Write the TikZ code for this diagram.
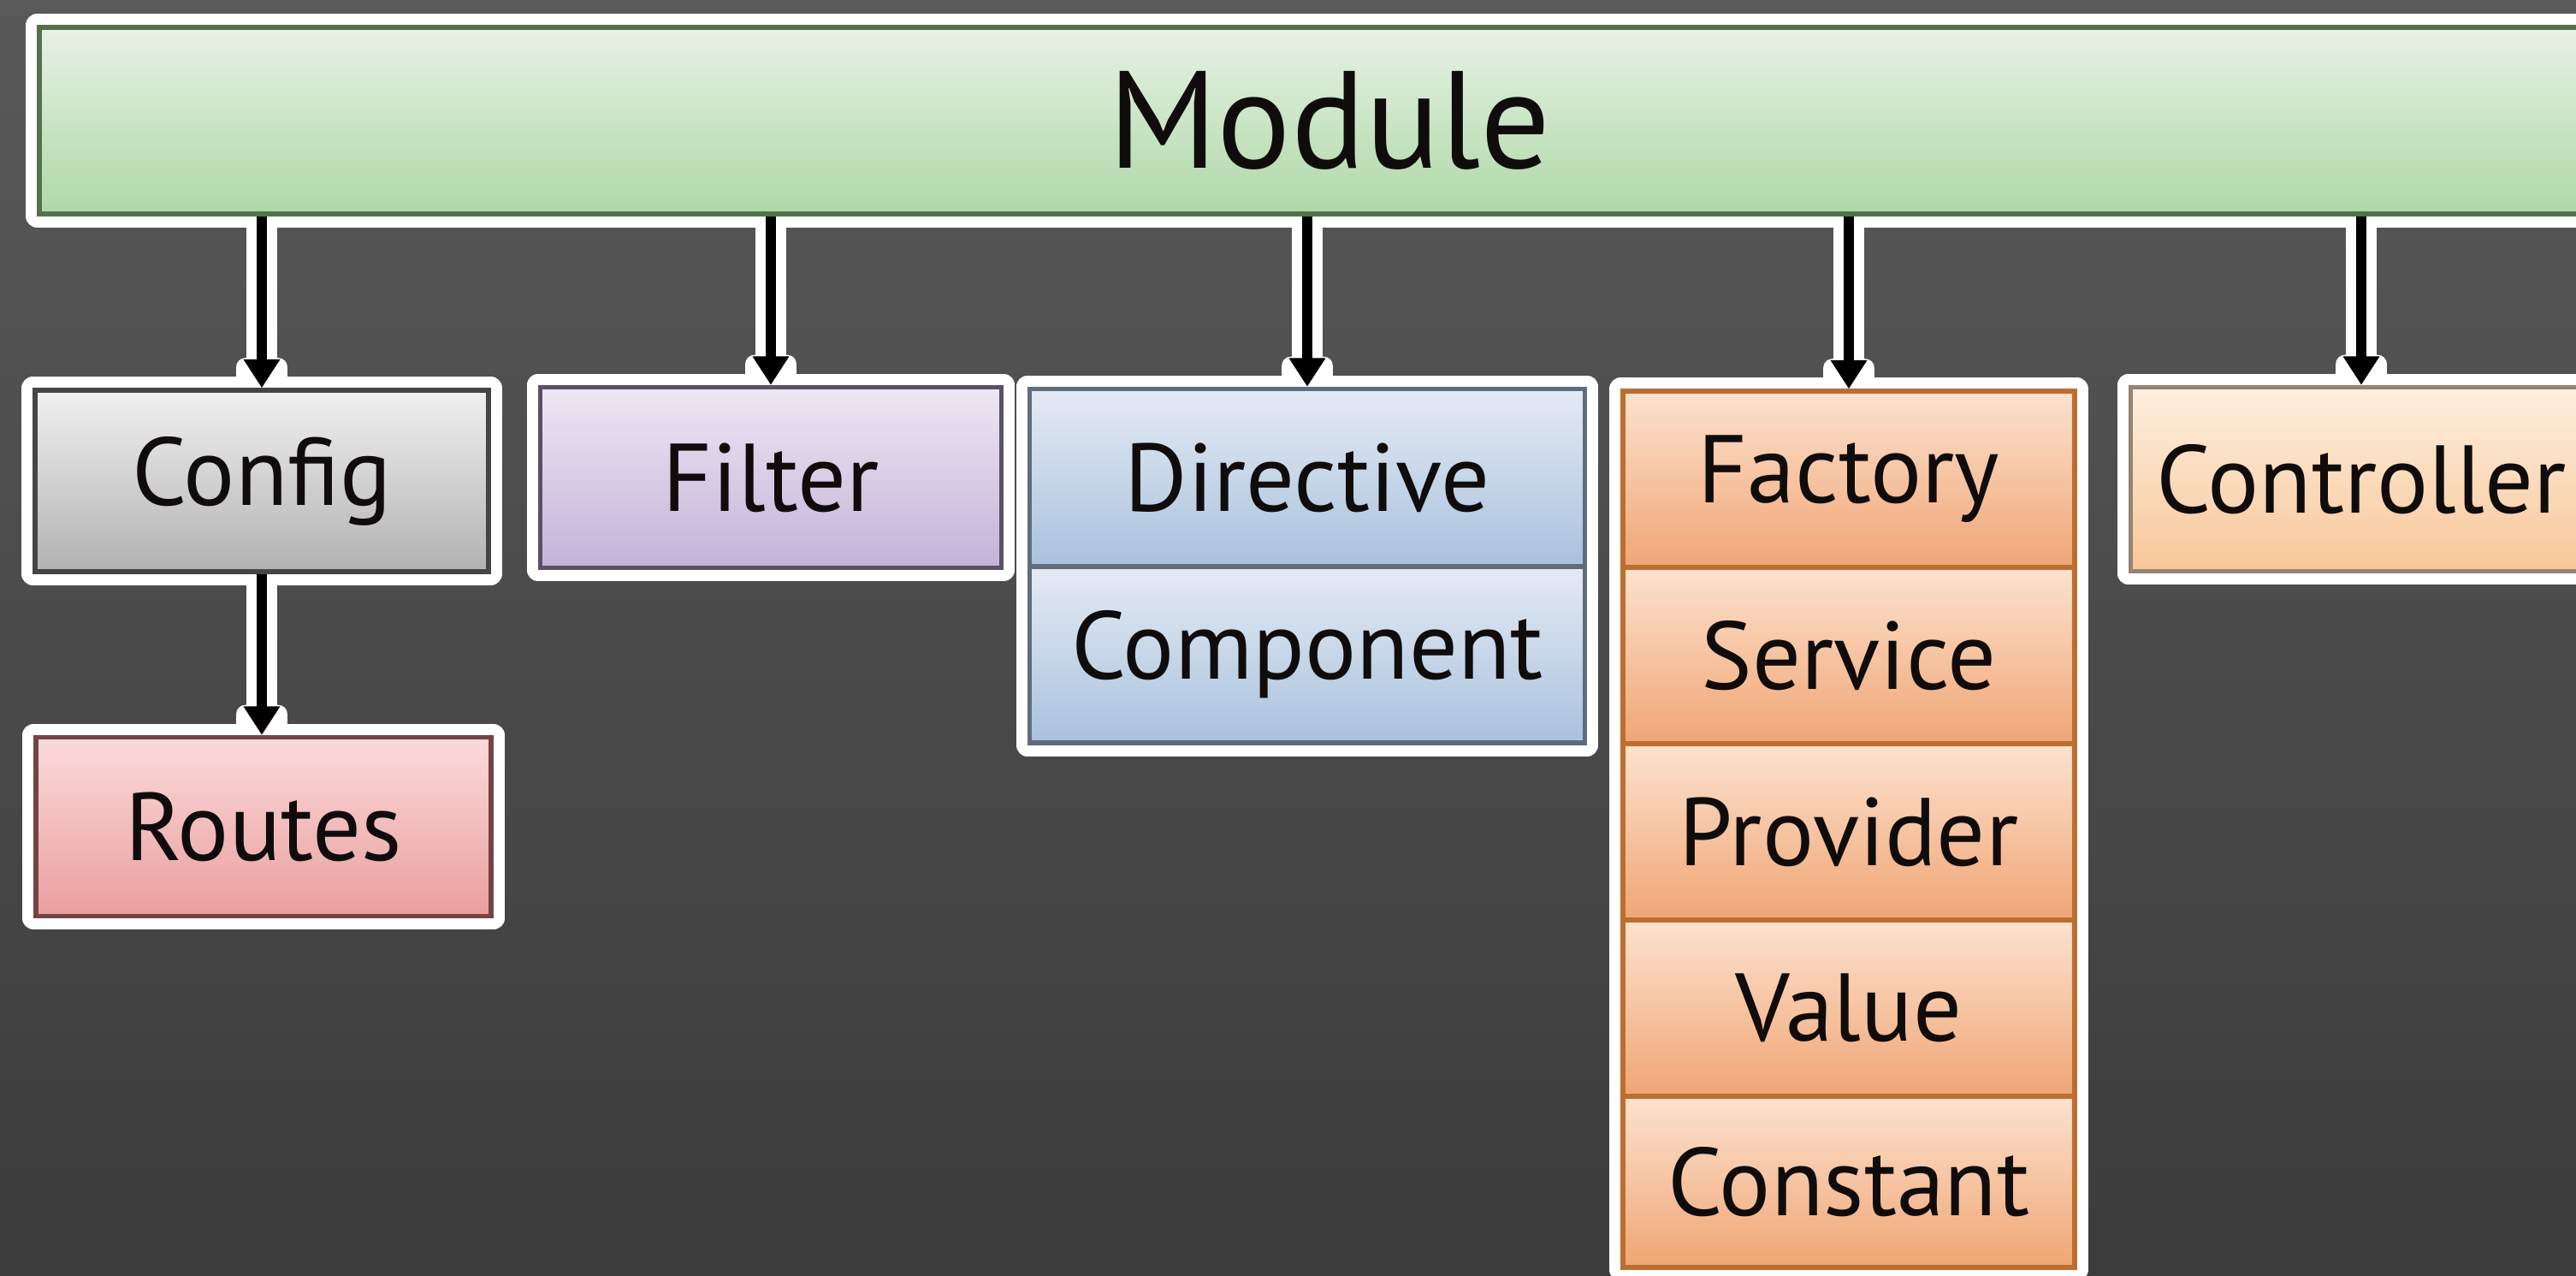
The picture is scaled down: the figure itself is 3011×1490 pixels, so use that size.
\documentclass[tikz,border=0pt]{standalone}
\usepackage{fontspec}
\setmainfont{PT Sans}
\usetikzlibrary{arrows.meta,fit}
\pgfdeclarelayer{bg}
\pgfdeclarelayer{glow}
\pgfsetlayers{bg,glow,main}

\definecolor{bgtop}{HTML}{595959}
\definecolor{bgbot}{HTML}{3C3C3C}
\definecolor{ink}{HTML}{100C0C}
\definecolor{modA}{HTML}{E7F2E5}\definecolor{modB}{HTML}{AED8A7}\definecolor{modC}{HTML}{56704F}
\definecolor{cfgA}{HTML}{F0F0F0}\definecolor{cfgB}{HTML}{B2B2B2}\definecolor{cfgC}{HTML}{454545}
\definecolor{filA}{HTML}{EDE7F3}\definecolor{filB}{HTML}{C3B3D8}\definecolor{filC}{HTML}{5A5068}
\definecolor{dirA}{HTML}{E4EBF4}\definecolor{dirB}{HTML}{A9C1DD}\definecolor{dirC}{HTML}{5F6D7C}
\definecolor{facA}{HTML}{FCE2CF}\definecolor{facB}{HTML}{F0A574}\definecolor{facC}{HTML}{BC6E30}
\definecolor{ctlA}{HTML}{FDEFDF}\definecolor{ctlB}{HTML}{F8C798}\definecolor{ctlC}{HTML}{958474}
\definecolor{rteA}{HTML}{FBDADA}\definecolor{rteB}{HTML}{EA9E9E}\definecolor{rteC}{HTML}{744444}

\tikzset{
  box/.style n args={3}{shade, top color=#1, bottom color=#2, draw=#3,
    line width=1.5pt, inner sep=0pt, text=ink,
    font=\fontsize{32pt}{37pt}\selectfont},
  glowbox/.style={draw=white, fill=white, line width=7.5pt, line join=round,
    inner sep=0pt},
  glowline/.style={draw=white, line width=10pt},
  glowhead/.style={fill=white, rounded corners=3pt},
  link/.style={draw=black, line width=3.3pt,
    -{Triangle[length=9.5pt,width=11.5pt]}},
}

\begin{document}
\begin{tikzpicture}[x=0.1mm,y=-0.1mm]
\useasboundingbox (0,0) rectangle (3011,1490);

% canvas
\begin{pgfonlayer}{bg}
  \shade[top color=bgtop, bottom color=bgbot] (0,0) rectangle (3011,1490);
\end{pgfonlayer}

% top level
\node[box={modA}{modB}{modC},
      minimum width=301.6mm, minimum height=21.8mm,
      font=\fontsize{46pt}{52pt}\selectfont] (module) at (1554,141) {Module};

% second row
\node[box={cfgA}{cfgB}{cfgC},
      minimum width=53mm, minimum height=21.2mm] (config) at (306,562) {Config};
\node[box={filA}{filB}{filC},
      minimum width=53.9mm, minimum height=21.1mm] (filter) at (901,558) {Filter};
\node[box={dirA}{dirB}{dirC},
      minimum width=64.9mm, minimum height=20.7mm] (directive) at (1528,558) {Directive};
\node[box={dirA}{dirB}{dirC},
      minimum width=64.9mm, minimum height=20.6mm] (component) at (1528,765) {Component};

\node[box={facA}{facB}{facC},
      minimum width=52.8mm, minimum height=20.6mm] (factory)  at (2161,560) {Factory};
\node[box={facA}{facB}{facC},
      minimum width=52.8mm, minimum height=20.6mm] (service)  at (2161,766) {Service};
\node[box={facA}{facB}{facC},
      minimum width=52.8mm, minimum height=20.6mm] (provider) at (2161,972) {Provider};
\node[box={facA}{facB}{facC},
      minimum width=52.8mm, minimum height=20.6mm] (value)    at (2161,1178) {Value};
\node[box={facA}{facB}{facC},
      minimum width=52.8mm, minimum height=20.0mm] (constant) at (2161,1381) {Constant};

\node[box={ctlA}{ctlB}{ctlC},
      minimum width=53.9mm, minimum height=21.5mm] (controller) at (2760,560) {Controller};

% third row
\node[box={rteA}{rteB}{rteC},
      minimum width=53.2mm, minimum height=20.9mm] (routes) at (308,966) {Routes};

% white outlines behind boxes and connectors
\begin{pgfonlayer}{glow}
  \node[glowbox, fit=(module)] {};
  \node[glowbox, fit=(config)] {};
  \node[glowbox, fit=(filter)] {};
  \node[glowbox, fit=(directive)(component)] {};
  \node[glowbox, fit=(factory)(constant)] {};
  \node[glowbox, fit=(controller)] {};
  \node[glowbox, fit=(routes)] {};
  \foreach \t in {config,filter,directive,factory,controller}{
    \draw[glowline] (module.south -| \t.north) -- (\t.north);
    \fill[glowhead] ([xshift=-8.5pt,yshift=10pt]\t.north) rectangle ([xshift=8.5pt]\t.north);
  }
  \draw[glowline] (config.south) -- (config.south |- routes.north);
  \fill[glowhead] ([xshift=-8.5pt,yshift=10pt]routes.north -| config.south)
    rectangle ([xshift=8.5pt]routes.north -| config.south);
\end{pgfonlayer}

% connectors
\foreach \t in {config,filter,directive,factory,controller}
  \draw[link] (module.south -| \t.north) -- (\t.north);
\draw[link] (config.south) -- (config.south |- routes.north);

\end{tikzpicture}
\end{document}
